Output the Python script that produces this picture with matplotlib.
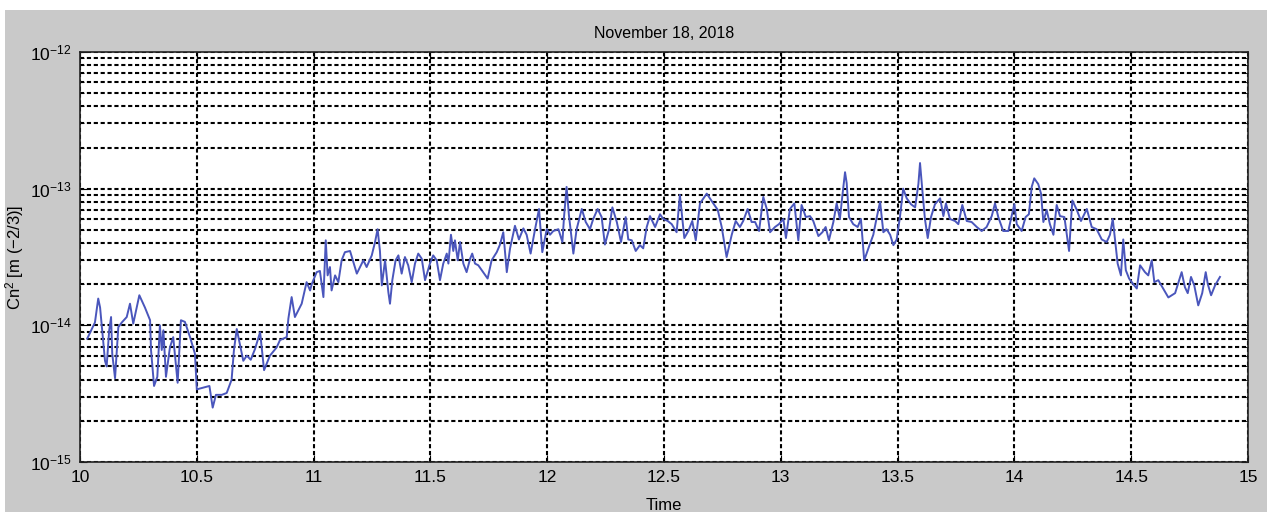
import numpy as np
import matplotlib
matplotlib.use("Agg")
import matplotlib.pyplot as plt
from matplotlib.patches import Rectangle
from matplotlib.ticker import NullLocator, NullFormatter, FixedLocator, LogFormatterMathtext

plt.rcParams["font.family"] = ["Liberation Sans", "DejaVu Sans"]
plt.rcParams["mathtext.fontset"] = "custom"
plt.rcParams["mathtext.rm"] = "Liberation Sans"
plt.rcParams["mathtext.it"] = "Liberation Sans:italic"

# time of day [h] and Cn2 readings (in units of 1e-14 m^-2/3)
time_h = [
    10.031, 10.064, 10.078, 10.086, 10.107, 10.114, 10.125, 10.133, 10.138, 10.150,
    10.164, 10.179, 10.200, 10.214, 10.228, 10.254, 10.278, 10.300, 10.304, 10.317,
    10.331, 10.342, 10.350, 10.357, 10.368, 10.385, 10.399, 10.418, 10.432, 10.449,
    10.471, 10.492, 10.500, 10.528, 10.554, 10.568, 10.582, 10.607, 10.628, 10.649,
    10.659, 10.671, 10.699, 10.714, 10.731, 10.749, 10.771, 10.788, 10.813, 10.842,
    10.856, 10.885, 10.892, 10.906, 10.920, 10.949, 10.970, 10.985, 10.992, 11.013,
    11.027, 11.042, 11.052, 11.060, 11.070, 11.077, 11.092, 11.106, 11.120, 11.134,
    11.156, 11.185, 11.213, 11.227, 11.249, 11.263, 11.274, 11.284, 11.292, 11.306,
    11.320, 11.327, 11.337, 11.351, 11.363, 11.377, 11.391, 11.405, 11.420, 11.434,
    11.448, 11.463, 11.477, 11.498, 11.512, 11.527, 11.541, 11.555, 11.570, 11.577,
    11.588, 11.598, 11.605, 11.617, 11.627, 11.641, 11.655, 11.670, 11.679, 11.691,
    11.705, 11.726, 11.745, 11.762, 11.784, 11.798, 11.812, 11.827, 11.841, 11.862,
    11.879, 11.898, 11.912, 11.929, 11.948, 11.965, 11.979, 11.998, 12.012, 12.026,
    12.048, 12.065, 12.072, 12.083, 12.093, 12.112, 12.126, 12.148, 12.165, 12.183,
    12.197, 12.216, 12.233, 12.247, 12.265, 12.279, 12.298, 12.316, 12.336, 12.347,
    12.362, 12.379, 12.397, 12.411, 12.426, 12.440, 12.462, 12.483, 12.497, 12.516,
    12.533, 12.554, 12.568, 12.587, 12.604, 12.621, 12.636, 12.654, 12.683, 12.711,
    12.730, 12.747, 12.768, 12.790, 12.807, 12.825, 12.839, 12.858, 12.875, 12.890,
    12.907, 12.925, 12.940, 12.954, 12.975, 12.992, 13.011, 13.022, 13.039, 13.058,
    13.075, 13.089, 13.107, 13.125, 13.139, 13.161, 13.178, 13.192, 13.206, 13.225,
    13.239, 13.253, 13.263, 13.275, 13.282, 13.292, 13.310, 13.329, 13.343, 13.357,
    13.375, 13.396, 13.411, 13.425, 13.439, 13.453, 13.468, 13.482, 13.496, 13.510,
    13.524, 13.539, 13.557, 13.575, 13.589, 13.596, 13.606, 13.617, 13.629, 13.643,
    13.660, 13.682, 13.696, 13.707, 13.724, 13.746, 13.760, 13.777, 13.796, 13.817,
    13.839, 13.860, 13.881, 13.903, 13.917, 13.931, 13.952, 13.974, 13.988, 14.000,
    14.010, 14.031, 14.048, 14.062, 14.074, 14.085, 14.102, 14.114, 14.124, 14.138,
    14.152, 14.167, 14.181, 14.195, 14.214, 14.234, 14.248, 14.267, 14.285, 14.310,
    14.331, 14.352, 14.374, 14.395, 14.409, 14.421, 14.431, 14.442, 14.456, 14.466,
    14.477, 14.491, 14.509, 14.524, 14.538, 14.559, 14.573, 14.588, 14.599, 14.616,
    14.637, 14.659, 14.688, 14.716, 14.730, 14.742, 14.756, 14.770, 14.787, 14.804,
    14.819, 14.828, 14.842, 14.859, 14.880,
]
cn2_e14 = [
    0.80, 1.05, 1.57, 1.35, 0.55, 0.50, 0.92, 1.15, 0.62, 0.41,
    0.97, 1.05, 1.15, 1.44, 1.03, 1.66, 1.35, 1.09, 0.66, 0.36,
    0.42, 1.00, 0.66, 0.92, 0.42, 0.69, 0.82, 0.38, 1.09, 1.06,
    0.82, 0.62, 0.34, 0.35, 0.36, 0.25, 0.31, 0.31, 0.32, 0.40,
    0.66, 0.94, 0.55, 0.60, 0.56, 0.67, 0.89, 0.47, 0.60, 0.69,
    0.78, 0.82, 1.12, 1.61, 1.15, 1.44, 2.07, 1.80, 2.00, 2.45,
    2.50, 1.61, 4.19, 2.32, 2.67, 1.80, 2.32, 2.07, 2.99, 3.43,
    3.50, 2.39, 2.99, 2.67, 3.25, 4.07, 5.05, 3.50, 1.96, 2.99,
    1.75, 1.44, 2.14, 2.99, 3.25, 2.39, 3.16, 2.75, 2.07, 2.83,
    3.35, 3.07, 2.14, 2.83, 3.25, 2.99, 2.14, 2.83, 3.35, 2.83,
    4.60, 3.50, 4.19, 2.99, 4.07, 2.83, 2.45, 3.07, 3.35, 2.83,
    2.75, 2.45, 2.20, 2.99, 3.43, 3.90, 4.80, 2.45, 3.66, 5.35,
    4.25, 5.12, 4.60, 3.35, 5.05, 7.10, 3.43, 5.05, 4.60, 4.90,
    5.05, 4.07, 6.20, 10.3, 6.40, 3.35, 5.05, 7.10, 5.70, 5.05,
    6.00, 7.10, 6.20, 3.90, 5.05, 7.30, 5.70, 4.07, 6.20, 4.25,
    4.19, 3.50, 3.86, 3.66, 5.24, 6.30, 5.24, 6.50, 6.00, 5.80,
    5.50, 4.80, 9.00, 4.35, 4.90, 5.80, 4.19, 7.80, 9.20, 7.80,
    7.00, 5.24, 3.16, 4.60, 5.80, 5.24, 5.80, 7.10, 5.70, 5.70,
    4.90, 8.70, 7.10, 4.80, 5.24, 5.50, 6.00, 4.35, 7.10, 7.80,
    4.19, 7.60, 6.20, 6.30, 5.80, 4.50, 4.80, 5.24, 4.19, 5.70,
    7.80, 6.00, 8.70, 13.2, 11.0, 6.20, 5.50, 5.24, 6.00, 2.99,
    3.66, 4.60, 6.20, 8.00, 4.80, 5.05, 4.60, 3.86, 4.25, 6.20,
    10.0, 8.50, 7.70, 7.30, 10.8, 15.4, 9.70, 6.00, 4.35, 6.20,
    7.70, 8.50, 6.30, 7.80, 6.00, 5.80, 5.50, 7.60, 5.80, 5.70,
    5.24, 4.90, 5.24, 6.30, 7.80, 6.20, 4.90, 4.90, 6.30, 7.70,
    5.50, 4.90, 6.20, 6.50, 10.3, 11.9, 10.8, 9.20, 5.70, 7.00,
    5.50, 4.60, 7.60, 6.30, 6.20, 3.50, 8.20, 7.00, 5.80, 7.10,
    5.24, 5.05, 4.25, 4.07, 4.60, 6.00, 4.19, 2.83, 2.32, 4.25,
    2.53, 2.20, 2.00, 1.86, 2.75, 2.45, 2.32, 2.99, 2.07, 2.14,
    1.86, 1.60, 1.72, 2.45, 1.90, 1.72, 2.26, 1.96, 1.40, 1.72,
    2.45, 2.00, 1.66, 1.96, 2.26,
]
x_ticks = [10, 10.5, 11, 11.5, 12, 12.5, 13, 13.5, 14, 14.5, 15]
x_ticklabels = ["10", "10.5", "11", "11.5", "12", "12.5", "13", "13.5", "14", "14.5", "15"]
y_decades = [1e-15, 1e-14, 1e-13, 1e-12]

cn2 = np.array(cn2_e14) * 1e-14

fig = plt.figure(figsize=(12.72, 5.12), dpi=100, facecolor="white")
# grey matlab-style panel behind the axes
fig.patches.append(Rectangle((5 / 1272, 0), 1262 / 1272, 502 / 512,
                             transform=fig.transFigure, facecolor="#c9c9c9",
                             edgecolor="none", zorder=-10))

ax = fig.add_axes([80 / 1272, 1 - 462 / 512, 1168 / 1272, 410 / 512])
ax.set_facecolor("white")
ax.plot(time_h, cn2, color="#4a56bc", lw=1.4, zorder=3)

ax.set_yscale("log")
ax.set_ylim(y_decades[0], y_decades[-1])
ax.set_xlim(x_ticks[0], x_ticks[-1])
ax.xaxis.set_major_locator(FixedLocator(x_ticks))
ax.set_xticklabels(x_ticklabels)
ax.xaxis.set_minor_locator(NullLocator())
# log-axis ticks: decades plus the 2..9 subdivisions inside each decade
ax.yaxis.set_major_locator(FixedLocator(y_decades))
ax.yaxis.set_major_formatter(LogFormatterMathtext())
minor_y = [m * d for d in y_decades[:-1] for m in range(2, 10)]
ax.yaxis.set_minor_locator(FixedLocator(minor_y))
ax.yaxis.set_minor_formatter(NullFormatter())

grid_style = dict(color="black", linestyle=(0, (2, 1.3)), linewidth=1.5)
ax.grid(True, which="major", axis="both", **grid_style)
ax.grid(True, which="minor", axis="y", **grid_style)
ax.set_axisbelow(True)

ax.tick_params(which="both", direction="in", top=True, right=True, labelsize=12.5,
               colors="black", pad=6)
ax.tick_params(which="major", length=5)
ax.tick_params(which="minor", length=3)
for sp in ax.spines.values():
    sp.set_linewidth(1.2)
    sp.set_color("#222222")

ax.set_title("November 18, 2018", fontsize=11.5, pad=10)
ax.set_xlabel("Time", fontsize=12, labelpad=9)
ax.set_ylabel("Cn$^{2}$ [m (\u22122/3)]", fontsize=12, labelpad=3)

fig.savefig("out.png", dpi=100, facecolor=fig.get_facecolor())
